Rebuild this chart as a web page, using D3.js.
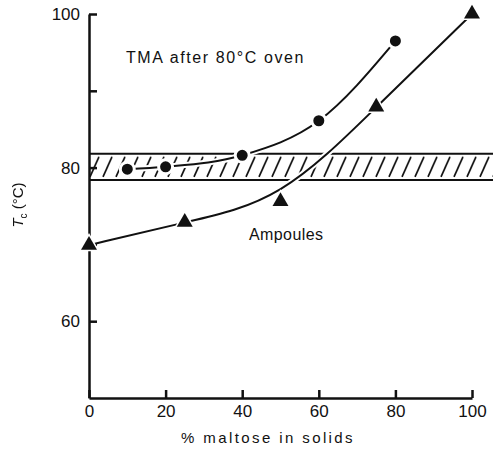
<!DOCTYPE html>
<html>
<head>
<meta charset="utf-8">
<script src="https://cdn.jsdelivr.net/npm/d3@7"></script>
<style>
  html, body { margin: 0; padding: 0; background: #fff; }
  svg { display: block; }
  text { font-family: "Liberation Sans", Arial, sans-serif; fill: #111; }
</style>
</head>
<body>
<svg id="chart" width="493" height="452"></svg>
<script>
// Maltose content (% of solids) and collapse temperature Tc (°C)
const tmaMaltose = [10, 20, 40, 60, 80];
const tmaTc = [79.8, 80.1, 81.6, 86.1, 96.5];
const ampMaltose = [0, 25, 50, 75, 100];
const ampTc = [69.9, 72.9, 75.6, 87.9, 100.0];

// Reference temperature band (°C)
const bandLow = 78.4;
const bandHigh = 81.8;

const xTicks = [0, 20, 40, 60, 80, 100];
const yTicks = [60, 70, 80, 90, 100];
const yLabelled = [60, 80, 100];

const labelTMA = "TMA after 80°C oven";
const labelAmp = "Ampoules";
const xTitle = "% maltose in solids";

const W = 493, H = 452;
const svg = d3.select("#chart");

const x = d3.scaleLinear().domain([0, 100]).range([89, 472]);
const y = d3.scaleLinear().domain([50, 100]).range([398, 14]);

// Hatched band
const defs = svg.append("defs");
const bandTop = y(bandHigh), bandBot = y(bandLow);
const pat = defs.append("pattern")
  .attr("id", "hatch")
  .attr("patternUnits", "userSpaceOnUse")
  .attr("x", x(0)).attr("y", bandTop)
  .attr("width", 13).attr("height", bandBot - bandTop);
pat.append("line")
  .attr("x1", 1).attr("y1", bandBot - bandTop - 3)
  .attr("x2", 10).attr("y2", 3)
  .attr("stroke", "#111").attr("stroke-width", 1.7);

svg.append("rect")
  .attr("x", x(0)).attr("y", bandTop)
  .attr("width", W - x(0)).attr("height", bandBot - bandTop)
  .attr("fill", "url(#hatch)");

[bandHigh, bandLow].forEach(v => {
  svg.append("line")
    .attr("x1", x(0)).attr("x2", W)
    .attr("y1", y(v)).attr("y2", y(v))
    .attr("stroke", "#111").attr("stroke-width", 2);
});

// Fitted curves
const tmaPts = tmaMaltose.map((m, i) => [m, tmaTc[i]]);
const ampPts = ampMaltose.map((m, i) => [m, ampTc[i]]);

const tmaLine = d3.line().x(d => x(d[0])).y(d => y(d[1])).curve(d3.curveMonotoneX);
const ampLine = d3.line().x(d => x(d[0])).y(d => y(d[1])).curve(d3.curveBasis);

[[tmaPts, tmaLine], [ampPts, ampLine]].forEach(([pts, gen]) => {
  svg.append("path").attr("d", gen(pts))
    .attr("fill", "none").attr("stroke", "#fff").attr("stroke-width", 6);
  svg.append("path").attr("d", gen(pts))
    .attr("fill", "none").attr("stroke", "#111").attr("stroke-width", 2);
});

// Axes
const yAxis = d3.axisLeft(y)
  .tickValues(yTicks)
  .tickSize(-8).tickSizeOuter(0).tickPadding(9)
  .tickFormat(d => yLabelled.includes(d) ? d : "");
const gy = svg.append("g").attr("transform", `translate(${x(0)},0)`).call(yAxis);

const xAxis = d3.axisBottom(x)
  .tickValues(xTicks)
  .tickSize(-8).tickSizeOuter(0).tickPadding(7);
const gx = svg.append("g").attr("transform", `translate(0,${y(50)})`).call(xAxis);

[gx, gy].forEach(g => {
  g.select(".domain").attr("stroke", "#111").attr("stroke-width", 2.5);
  g.selectAll(".tick line").attr("stroke", "#111").attr("stroke-width", 2.5);
  g.selectAll(".tick text")
    .attr("font-family", "Liberation Sans, Arial, sans-serif")
    .attr("font-size", 17).attr("fill", "#111");
});

// Markers
svg.append("g").selectAll("circle")
  .data(tmaPts).join("circle")
  .attr("cx", d => x(d[0])).attr("cy", d => y(d[1]))
  .attr("r", 7)
  .attr("fill", "#111").attr("stroke", "#fff").attr("stroke-width", 3);

const tri = d3.symbol().type(d3.symbolTriangle).size(110);
svg.append("g").selectAll("path")
  .data(ampPts).join("path")
  .attr("d", tri)
  .attr("transform", d => `translate(${x(d[0])},${y(d[1])})`)
  .attr("fill", "#111").attr("stroke", "#fff").attr("stroke-width", 3)
  .attr("paint-order", "stroke");

// Annotations
svg.append("text")
  .attr("x", 126).attr("y", 63)
  .attr("font-size", 16).attr("letter-spacing", 1.6)
  .text(labelTMA);

svg.append("text")
  .attr("x", 249).attr("y", 240)
  .attr("font-size", 16).attr("letter-spacing", 0.4)
  .text(labelAmp);

svg.append("text")
  .attr("x", 268).attr("y", 443)
  .attr("text-anchor", "middle")
  .attr("font-size", 15).attr("letter-spacing", 2.4)
  .text(xTitle);

// Rotated axis title, kept in neutral grey tones
const yt = svg.append("g").style("filter", "grayscale(1)")
  .append("text")
  .attr("transform", "translate(23,205) rotate(-90)")
  .attr("text-anchor", "middle")
  .attr("font-size", 15)
  .attr("fill", "#111");
yt.append("tspan").attr("font-style", "italic").text("T");
yt.append("tspan").attr("font-size", 10).attr("dy", 4).text("c");
yt.append("tspan").attr("dy", -4).text(" (°C)");
</script>
</body>
</html>
